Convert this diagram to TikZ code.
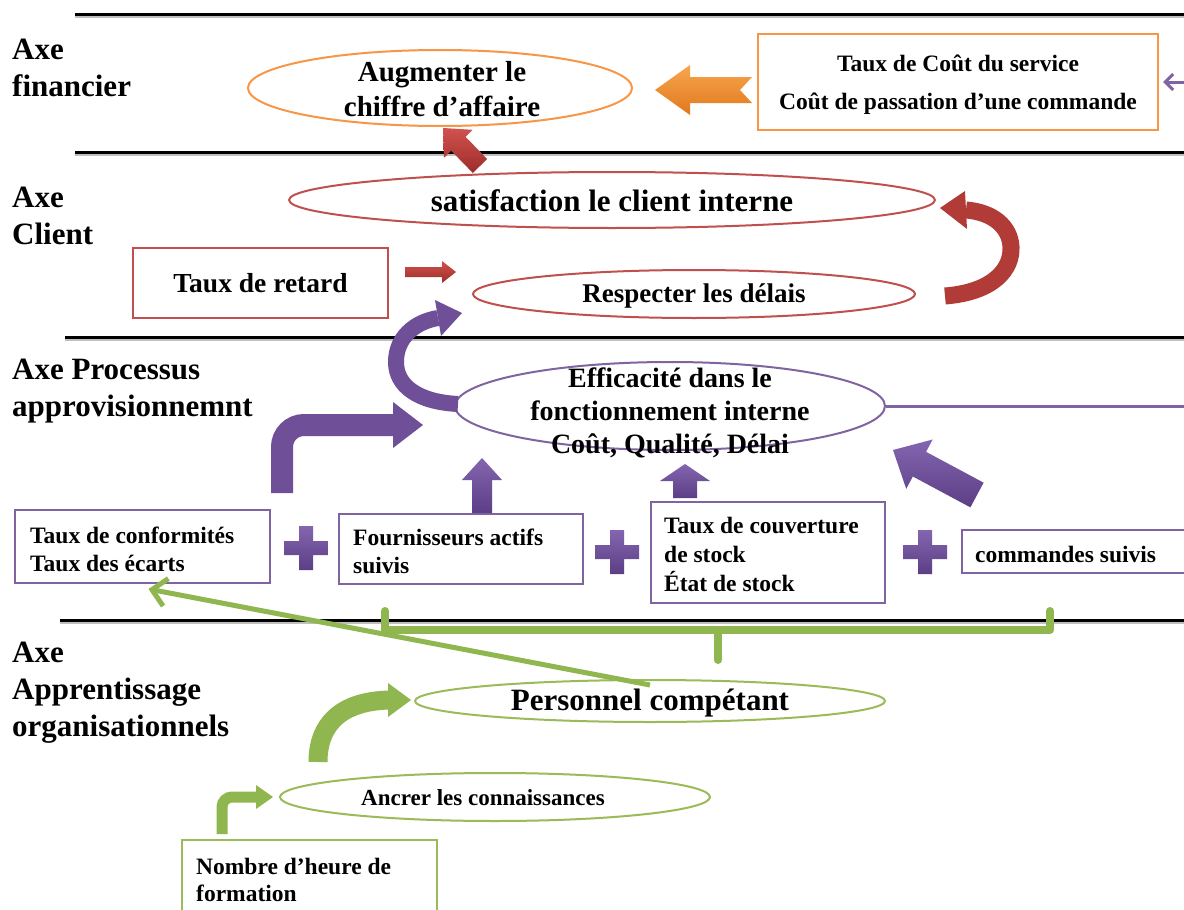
\documentclass[tikz,border=0pt]{standalone}
\usepackage{fontspec}
\setmainfont{Liberation Serif}
\usetikzlibrary{calc,arrows.meta,shapes.geometric}

\definecolor{orng}{HTML}{F79646}
\definecolor{orngL}{HTML}{F8A64E}
\definecolor{orngD}{HTML}{E0781C}
\definecolor{redb}{HTML}{C0504D}
\definecolor{redL}{HTML}{D2524E}
\definecolor{redD}{HTML}{9B2D2A}
\definecolor{redM}{HTML}{B13B37}
\definecolor{purp}{HTML}{8064A2}
\definecolor{purpL}{HTML}{8466B0}
\definecolor{purpD}{HTML}{5B3E85}
\definecolor{purpM}{HTML}{6E4F98}
\definecolor{grn}{HTML}{9BBB59}
\definecolor{grnL}{HTML}{A6C964}
\definecolor{grnD}{HTML}{7FA540}
\definecolor{grnM}{HTML}{8FB64F}

\newcommand\fsz[2]{\fontsize{#1}{#2}\selectfont}

% straight block arrow: [fill style]{tail}{tip}{half shaft}{half head}{head length}
\newcommand\blockarrow[6][]{%
  \coordinate (bah) at ($(#3)!#6!(#2)$);
  \path[#1] ($(#2)!#4!90:(#3)$) -- ($(bah)!#4!90:(#3)$) -- ($(bah)!#5!90:(#3)$) -- (#3)
    -- ($(bah)!#5!-90:(#3)$) -- ($(bah)!#4!-90:(#3)$) -- ($(#2)!#4!-90:(#3)$) -- cycle;
}

\begin{document}
\begin{tikzpicture}[x=1pt,y=-1pt,
  txt/.style={font=\bfseries, inner sep=0pt, align=center},
  lbl/.style={txt, anchor=west, align=left, font=\bfseries\fsz{31}{37}},
  boxtxt/.style={txt, anchor=west, align=left, font=\bfseries\fsz{23.5}{28}},
  ell/.style={ellipse, draw=#1, line width=2pt, inner sep=0pt},
  bx/.style={rectangle, draw=#1, line width=2pt, inner sep=0pt},
  axline/.style={line width=3pt, black},
  axshadow/.style={line width=3pt, black!25},
  purpshade/.style={top color=purpL, bottom color=purpD},
  redshade/.style={top color=redL, bottom color=redD},
  orngshade/.style={top color=orngL, bottom color=orngD},
  plussign/.pic={
    \path[purpshade] (-7,-22) -| (7,-7) -| (22,7) -| (7,22) -| (-7,7) -| (-22,-7) -| (-7,-22) -- cycle;
  },
]
\useasboundingbox (0,0) rectangle (1184,910);
\fill[white] (0,0) rectangle (1184,910);

% separators between the four axes
\foreach \yy/\xx in {14/75,152/75,337/65,620/60} {
  \draw[axshadow] (\xx,\yy+2.5) -- (1184,\yy+2.5);
  \draw[axline] (\xx,\yy) -- (1184,\yy);
}

% axis titles
\node[lbl] (ax1) at (12,68) {Axe\\financier};
\node[lbl] (ax2) at (12,216) {Axe\\Client};
\node[lbl] (ax3) at (12,391) {Axe Processus\\approvisionnemnt};
\node[lbl] (ax4) at (12,693) {Axe\\Apprentissage\\organisationnels};

% ---- financial axis
\node[ell=orng, minimum width=384pt, minimum height=76pt] (ca) at (440,88) {};
\node[txt, font=\bfseries\fsz{29}{35}] (ca-t) at (442,89) {Augmenter le\\chiffre d’affaire};
\node[bx=orng, minimum width=400pt, minimum height=96pt] (cs) at (958,82) {};
\node[txt, font=\bfseries\fsz{23.5}{38}] (cs-t) at (958,85) {Taux de Coût du service\\Coût de passation d’une commande};
\path[orngshade] (752,77) -- (690,77) -- (690,65) -- (655,90) -- (690,115) -- (690,103) -- (752,103) -- (740,90) -- cycle;

% ---- client axis
\node[ell=redb, minimum width=646pt, minimum height=56pt] (sat) at (612,200) {};
\node[txt, font=\bfseries\fsz{31}{34}] (sat-t) at (612,201) {satisfaction le client interne};
\node[bx=redb, minimum width=255pt, minimum height=70pt] (ret) at (260.5,283) {};
\node[txt, font=\bfseries\fsz{27.5}{30}] (ret-t) at (ret) {Taux de retard};
\node[ell=redb, minimum width=442pt, minimum height=48pt] (del) at (694,294) {};
\node[txt, font=\bfseries\fsz{27}{30}] (del-t) at (694,296) {Respecter les délais};

\coordinate (r1a) at (480,166); \coordinate (r1b) at (443,128);
\blockarrow[redshade]{r1a}{r1b}{10pt}{20pt}{22pt}
\coordinate (r2a) at (405,272); \coordinate (r2b) at (456,272);
\blockarrow[redshade]{r2a}{r2b}{5pt}{11pt}{14pt}
% U-turn from the deadlines up to satisfaction
\draw[redM, line width=17pt] (945,296) .. controls (995,292) and (1012,268) .. (1011,247)
  .. controls (1010,226) and (992,212) .. (966,210);
\fill[redM] (965,191) -- (940,208) -- (967,229) -- cycle;

% ---- process axis
\node[ell=purp, minimum width=430pt, minimum height=88pt] (eff) at (670,406) {};
\node[txt, font=\bfseries\fsz{28}{33}] (eff-t) at (670,413) {Efficacité dans le\\fonctionnement interne\\Coût, Qualité, Délai};

\node[bx=purp, minimum width=255pt, minimum height=73pt] (conf) at (142.5,546.5) {};
\node[boxtxt] (conf-t) at (30,549) {Taux de conformités\\Taux des écarts};
\node[bx=purp, minimum width=244pt, minimum height=70pt] (four) at (461,549) {};
\node[boxtxt] (four-t) at (353,551) {Fournisseurs actifs\\suivis};
\node[bx=purp, minimum width=234pt, minimum height=101pt] (couv) at (768,552.5) {};
\node[boxtxt, font=\bfseries\fsz{23.5}{29}] (couv-t) at (664,554) {Taux de couverture\\de stock\\État de stock};
\node[bx=purp, minimum width=240pt, minimum height=43pt] (cmd) at (1082,551.5) {};
\node[boxtxt] (cmd-t) at (975,554) {commandes suivis};

\pic at (306,548) {plussign};
\pic at (617,552) {plussign};
\pic at (925,552) {plussign};

\coordinate (p1a) at (482,513); \coordinate (p1b) at (482,458);
\blockarrow[purpshade]{p1a}{p1b}{10pt}{20pt}{22pt}
\coordinate (p2a) at (685,498); \coordinate (p2b) at (685,464);
\blockarrow[purpshade]{p2a}{p2b}{12pt}{25pt}{17pt}
\coordinate (p3a) at (977,495); \coordinate (p3b) at (893,450);
\blockarrow[purpshade]{p3a}{p3b}{14pt}{28pt}{30pt}
% bent arrow from conformity box to efficiency
\draw[purpM, line width=22pt, rounded corners=22pt] (282,493) -- (282,425) -- (395,425);
\fill[purpM] (393,402) -- (423,425) -- (393,448) -- cycle;
% U-turn from efficiency up to deadlines
\draw[purpM, line width=16pt] (458,404) .. controls (418,402) and (396,386) .. (396,362)
  .. controls (396,338) and (414,322) .. (438,318);
\fill[purpM] (435,300) -- (462,313) -- (441,336) -- cycle;
% link from efficiency to the cost box
\draw[purp, line width=3pt, -{Straight Barb[length=8pt,width=16pt]}]
  (eff.east) -- (1196,406) -- (1196,82) -- ($(cs.east)+(4,0)$);

% ---- learning axis
\node[ell=grn, minimum width=470pt, minimum height=42pt] (pers) at (650,701) {};
\node[txt, font=\bfseries\fsz{31}{34}] (pers-t) at (650,703) {Personnel compétant};
\node[ell=grn, minimum width=430pt, minimum height=48pt] (anc) at (495,797) {};
\node[txt, font=\bfseries\fsz{23}{26}] (anc-t) at (483,798) {Ancrer les connaissances};
\node[bx=grn, minimum width=255pt, minimum height=100pt] (nb) at (309.5,890) {};
\node[boxtxt, font=\bfseries\fsz{23.5}{27}] (nb-t) at (196,880) {Nombre d’heure de\\formation};

% bracket gathering the indicator boxes
\draw[grnM, line width=8pt, line join=round, line cap=round] (385,611) |- (1050,630) -- (1050,611);
\draw[grnM, line width=8pt, line cap=round] (718,630) -- (718,660);
% arrow from skilled staff to conformity box
\draw[grnM, line width=5pt, -{Straight Barb[length=14pt,width=28pt]}]
  ($(pers.north)+(0,6)$) -- ($(conf.south)+(6,5)$);
% bent arrows
\draw[grnM, line width=19pt] (318,762) .. controls (318,725) and (340,701) .. (390,700);
\fill[grnM] (388,683) -- (411,700) -- (388,717) -- cycle;
\draw[grnM, line width=11pt, rounded corners=10pt] (222,834) -- (222,797) -- (258,797);
\fill[grnM] (256,785) -- (273,797) -- (256,809) -- cycle;
\end{tikzpicture}
\end{document}
